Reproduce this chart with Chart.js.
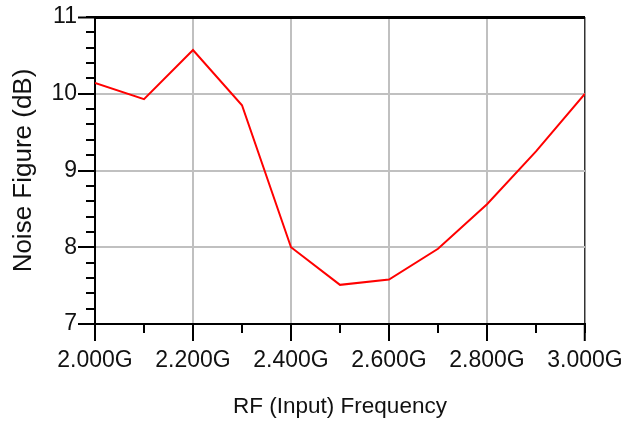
<!DOCTYPE html>
<html>
<head>
<meta charset="utf-8">
<script src="https://cdn.jsdelivr.net/npm/chart.js@4/dist/chart.umd.min.js"></script>
<style>
html,body{margin:0;padding:0;background:#fff;}
#wrap{width:642px;height:423px;}
</style>
</head>
<body>
<div id="wrap"><canvas id="c" width="642" height="423"></canvas></div>
<script>
const frequencies = [2.0, 2.1, 2.2, 2.3, 2.4, 2.5, 2.6, 2.7, 2.8, 2.9, 3.0];
const noiseFigure = [10.14, 9.93, 10.57, 9.85, 8.0, 7.51, 7.58, 7.98, 8.56, 9.25, 10.0];
const xMin = 2.0, xMax = 3.0, xStep = 0.2, xMinorStep = 0.1;
const yMin = 7, yMax = 11, yStep = 1, yMinorStep = 0.2;
const xTitle = 'RF (Input) Frequency';
const yTitle = 'Noise Figure (dB)';

const FONT = '"Liberation Sans", Arial, sans-serif';

const minorTicks = {
  id: 'minorTicks',
  afterDraw(chart) {
    const ctx = chart.ctx;
    const xs = chart.scales.x, ys = chart.scales.y;
    ctx.save();
    ctx.strokeStyle = '#000';
    ctx.lineWidth = 2;
    ctx.beginPath();
    const nx = Math.round((xMax - xMin) / xMinorStep);
    for (let i = 0; i <= nx; i++) {
      const v = xMin + i * xMinorStep;
      const px = Math.round(xs.getPixelForValue(v));
      ctx.moveTo(px, xs.top);
      ctx.lineTo(px, xs.top + 9);
    }
    const ny = Math.round((yMax - yMin) / yMinorStep);
    for (let i = 0; i <= ny; i++) {
      const v = yMin + i * yMinorStep;
      const py = Math.round(ys.getPixelForValue(v));
      ctx.moveTo(ys.right - 9, py);
      ctx.lineTo(ys.right, py);
    }
    ctx.stroke();
    ctx.restore();
  }
};

new Chart(document.getElementById('c'), {
  type: 'line',
  data: {
    datasets: [{
      data: frequencies.map((f, i) => ({x: f, y: noiseFigure[i]})),
      borderColor: '#ff0000',
      borderWidth: 2,
      pointRadius: 0,
      tension: 0,
      fill: false
    }]
  },
  options: {
    responsive: false,
    animation: false,
    devicePixelRatio: 1,
    layout: {padding: {top: 17, right: 57, left: 0, bottom: 0}},
    plugins: {legend: {display: false}, tooltip: {enabled: false}},
    scales: {
      x: {
        type: 'linear',
        min: xMin, max: xMax,
        afterFit(s) { s.height = 99; },
        ticks: {
          stepSize: xStep,
          font: {family: FONT, size: 23},
          color: '#111',
          padding: 6,
          maxRotation: 0,
          callback: v => v.toFixed(3) + 'G'
        },
        grid: {
          color: c => (c.tick && Math.abs(c.tick.value - xMax) < 1e-6) ? '#333' : '#c0c0c0',
          lineWidth: c => (c.tick && Math.abs(c.tick.value - xMax) < 1e-6) ? 1.5 : 2,
          tickLength: 17,
          tickColor: '#000',
          tickWidth: 2
        },
        border: {color: '#000', width: 2},
        title: {
          display: true,
          text: xTitle,
          font: {family: FONT, size: 22.5},
          color: '#111',
          padding: {top: 0, bottom: 3}
        }
      },
      y: {
        min: yMin, max: yMax,
        afterFit(s) { s.width = 95; },
        ticks: {
          stepSize: yStep,
          font: {family: FONT, size: 23},
          color: '#111',
          padding: 1
        },
        grid: {
          color: c => (c.tick && (c.tick.value === yMax || c.tick.value === yMin)) ? '#000' : '#c0c0c0',
          lineWidth: c => (c.tick && c.tick.value === yMax) ? 3 : 2,
          tickLength: 17,
          tickColor: '#000',
          tickWidth: 2
        },
        border: {color: '#000', width: 2},
        title: {
          display: true,
          text: yTitle,
          font: {family: FONT, size: 26},
          color: '#111',
          padding: {top: 8, bottom: 0}
        }
      }
    }
  },
  plugins: [minorTicks]
});
</script>
</body>
</html>
